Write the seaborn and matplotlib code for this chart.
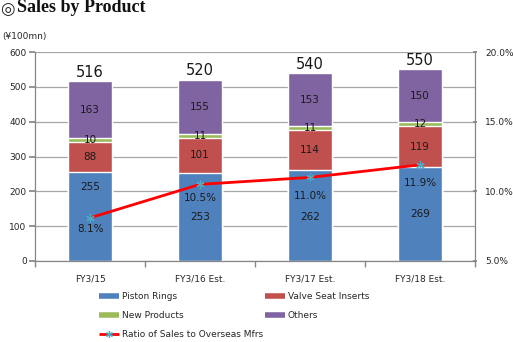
import matplotlib
matplotlib.use("Agg")
import matplotlib.pyplot as plt
import seaborn as sns
import numpy as np
import pandas as pd
from matplotlib.lines import Line2D

categories = ["FY3/15", "FY3/16 Est.", "FY3/17 Est.", "FY3/18 Est."]
piston_rings = [255, 253, 262, 269]
valve_seat = [88, 101, 114, 119]
new_products = [10, 11, 11, 12]
others = [163, 155, 153, 150]
totals = [516, 520, 540, 550]
ratio = [8.1, 10.5, 11.0, 11.9]

series_names = ["Piston Rings", "Valve Seat Inserts", "New Products", "Others"]
series_vals = [piston_rings, valve_seat, new_products, others]
colors = ["#4F81BD", "#C0504D", "#9BBB59", "#8064A2"]

sns.set_theme(style="white")
plt.rcParams['font.family'] = ['DejaVu Sans']

fig = plt.figure(figsize=(5.13, 3.42), dpi=100)
ax = fig.add_axes([35/513, 1-261/342, 440/513, 209/342])

cum = np.cumsum(np.array(series_vals), axis=0)
# draw from top layer down so each lower layer overlays
for i in range(3, -1, -1):
    df = pd.DataFrame({"cat": categories, "val": cum[i]})
    sns.barplot(data=df, x="cat", y="val", color=colors[i], width=0.4,
                saturation=1, ax=ax, zorder=2)

ax.set_ylim(0, 600)
ax.set_xlim(-0.5, 3.5)
ax.set_yticks(range(0, 601, 100))
ax.yaxis.grid(True, color="#A6A6A6", lw=0.9, zorder=0)
ax.set_axisbelow(True)
ax.set_xlabel("")
ax.set_ylabel("")
ax.tick_params(axis="y", labelsize=6.5, length=4, direction="out", color="#868686", pad=2, left=True)
ax.tick_params(axis="x", labelsize=6.5, length=0, pad=10)
ax.set_xticks(range(4))
ax.set_xticklabels(categories)
ax.set_xticks([0.5, 1.5, 2.5, 3.5, -0.5], minor=True)
ax.tick_params(axis="x", which="minor", length=4, direction="out", color="#868686", bottom=True)
for s in ["left", "bottom"]:
    ax.spines[s].set_color("#868686")
    ax.spines[s].set_linewidth(0.9)
ax.spines["top"].set_visible(False)
ax.spines["right"].set_visible(False)

# segment labels (piston-ring labels nudged as in the original to avoid the ratio labels)
piston_label_shift = [84, 0, -5, 0]
for i in range(4):
    for j in range(4):
        base = cum[i-1][j] if i > 0 else 0
        v = series_vals[i][j]
        y = base + v/2
        if i == 0:
            y = base + v/2 + piston_label_shift[j]
        ax.text(j, y, str(v), ha="center", va="center", fontsize=7.5, color="#1a1a1a", zorder=5)
for j, t in enumerate(totals):
    ax.text(j, t + 4, str(t), ha="center", va="bottom", fontsize=10.5, color="#1a1a1a", zorder=5)

ax2 = ax.twinx()
ax2.set_ylim(5, 20)
ax2.set_yticks([5, 10, 15, 20])
ax2.set_yticklabels(["5.0%", "10.0%", "15.0%", "20.0%"])
ax2.tick_params(axis="y", labelsize=6.5, length=3, direction="inout", color="#868686", pad=6, right=True)
for s in ["left", "bottom", "top"]:
    ax2.spines[s].set_visible(False)
ax2.spines["right"].set_color("#868686")
ax2.spines["right"].set_linewidth(0.9)
ax2.grid(False)
ldf = pd.DataFrame({"x": np.arange(4), "r": ratio})
sns.lineplot(data=ldf, x="x", y="r", ax=ax2, color="#FF0000", lw=2, marker=(6, 2, 0),
             markersize=6, markeredgecolor="#4BACC6", markerfacecolor="#4BACC6",
             markeredgewidth=0.9, zorder=6)
ax2.set_ylabel("")
ax2.set_xlabel("")
ax2.set_xlim(-0.5, 3.5)
ratio_label_gap = [0.8, 1.0, 1.3, 1.3]
for j, r in enumerate(ratio):
    ax2.text(j, r - ratio_label_gap[j], f"{r:.1f}%", ha="center", va="center",
             fontsize=7.5, color="#1a1a1a", zorder=7)

# title
fig.text(0/513, 1-9/342, "\u25CE", fontsize=12, fontweight="bold", va="center", ha="left",
         family=["DejaVu Sans"])
fig.text(17/513, 1-8/342, "Sales by Product", fontsize=13, fontweight="bold", va="center", ha="left",
         family=["Liberation Serif"], color="#111111")
fig.text(2/513, 1-37/342, "(\u00a5100mn)", fontsize=6.5, va="center", ha="left")

handles = [
    Line2D([], [], color=colors[0], lw=4, solid_capstyle="butt"),
    Line2D([], [], color=colors[2], lw=4, solid_capstyle="butt"),
    Line2D([], [], color="#FF0000", lw=2, marker=(6, 2, 0), markersize=5,
           markeredgecolor="#4BACC6", markeredgewidth=0.9, solid_capstyle="butt"),
    Line2D([], [], color=colors[1], lw=4, solid_capstyle="butt"),
    Line2D([], [], color=colors[3], lw=4, solid_capstyle="butt"),
]
labels = ["Piston Rings", "New Products", "Ratio of Sales to Overseas Mfrs",
          "Valve Seat Inserts", "Others"]
leg = fig.legend(handles, labels, loc="upper left", bbox_to_anchor=(99/513, 1-292/342), ncol=2,
                 frameon=False, fontsize=6.5, handlelength=2.2, handletextpad=0.3,
                 columnspacing=0.3, labelspacing=1.12, borderaxespad=0, borderpad=0)

fig.savefig("out.png", dpi=100)
